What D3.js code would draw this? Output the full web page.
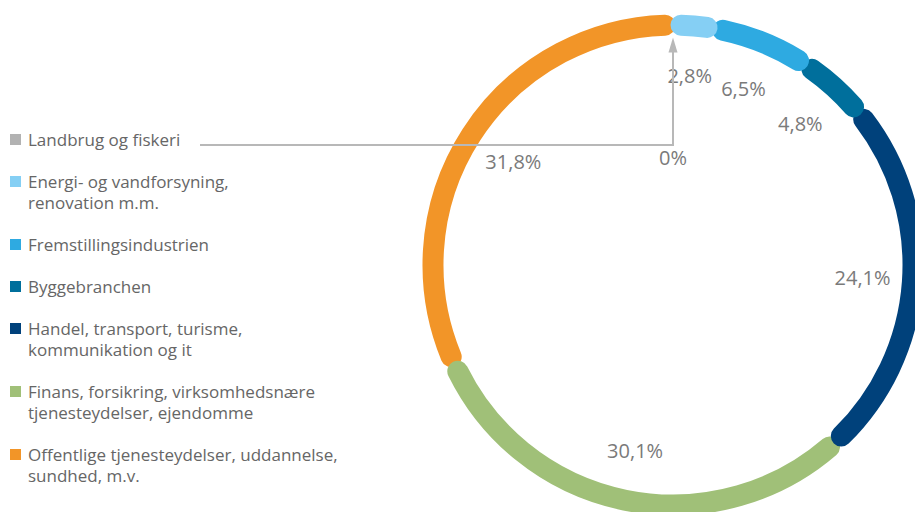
<!DOCTYPE html>
<html>
<head>
<meta charset="utf-8">
<script src="https://cdn.jsdelivr.net/npm/d3@7"></script>
<style>
body { margin: 0; background: #fff; }
svg text { font-family: "Open Sans", sans-serif; }
</style>
</head>
<body>
<svg></svg>
<script>
var width = 915;
var height = 512;

var categories = [
    ["Landbrug og fiskeri"],
    ["Energi- og vandforsyning,", "renovation m.m."],
    ["Fremstillingsindustrien"],
    ["Byggebranchen"],
    ["Handel, transport, turisme,", "kommunikation og it"],
    ["Finans, forsikring, virksomhedsnære", "tjenesteydelser, ejendomme"],
    ["Offentlige tjenesteydelser, uddannelse,", "sundhed, m.v."]
];
var values = [0, 2.8, 6.5, 4.8, 24.1, 30.1, 31.8];
var colors = ["#b2b2b2", "#85cff4", "#2eaae1", "#006f9c", "#00417b", "#a0c078", "#f29528"];

var cx = 673, cy = 265, R = 240, sw = 21;
var labelR = 190;

var svg = d3.select("svg")
    .attr("width", width)
    .attr("height", height);

var fmt = function(v) {
    if (v === 0) return "0%";
    return d3.format(".1f")(v).replace(".", ",") + "%";
};

var pie = d3.pie().sort(null).value(function(d) { return d; });
var arcs = pie(values);

var ring = svg.append("g").attr("transform", "translate(" + cx + "," + cy + ")");

// draw in reverse so each segment's cap sits on top of the next one
var inset = (sw / 2 - 2.5) / R;
arcs.slice().reverse().forEach(function(a) {
    if (a.value === 0) return;
    var p = d3.path();
    var a0 = a.startAngle + inset - Math.PI / 2;
    var a1 = a.endAngle - inset - Math.PI / 2;
    p.arc(0, 0, R, a0, a1);
    ring.append("path")
        .attr("d", p.toString())
        .attr("fill", "none")
        .attr("stroke", colors[a.index])
        .attr("stroke-width", sw)
        .attr("stroke-linecap", "round");
});

// value labels
arcs.forEach(function(a) {
    if (a.value === 0) return;
    var m = (a.startAngle + a.endAngle) / 2;
    ring.append("text")
        .attr("x", Math.sin(m) * labelR)
        .attr("y", -Math.cos(m) * labelR)
        .attr("dy", "0.35em")
        .attr("text-anchor", "middle")
        .attr("font-size", 20)
        .attr("fill", "#7a7a7a")
        .text(fmt(a.value));
});

// legend
var legend = svg.append("g");
var ly = 146;
var lineH = 21;
categories.forEach(function(lines, i) {
    var g = legend.append("g").attr("transform", "translate(0," + ly + ")");
    g.append("rect")
        .attr("x", 10).attr("y", -12)
        .attr("width", 11).attr("height", 11)
        .attr("fill", colors[i]);
    var t = g.append("text")
        .attr("font-size", 17)
        .attr("fill", "#666");
    lines.forEach(function(l, j) {
        t.append("tspan").attr("x", 28).attr("y", j * lineH).text(l);
    });
    if (i === 0) {
        // connector for the zero segment, runs from the legend to the ring
        var zero = arcs[0];
        var ex = cx + Math.sin(zero.startAngle) * (R - sw / 2);
        var ey = cy - Math.cos(zero.startAngle) * (R - sw / 2) + 2;
        var lyc = ly - 1;
        svg.append("path")
            .attr("d", "M200," + lyc + "H" + ex + "V" + (ey + 12))
            .attr("fill", "none")
            .attr("stroke", "#b8b8b8")
            .attr("stroke-width", 2);
        svg.append("path")
            .attr("d", "M" + ex + "," + ey + "l-4.5,15h9z")
            .attr("fill", "#b8b8b8");
        svg.append("text")
            .attr("x", ex)
            .attr("y", lyc + 20)
            .attr("text-anchor", "middle")
            .attr("font-size", 20)
            .attr("fill", "#7a7a7a")
            .text(fmt(zero.value));
    }
    ly += lines.length * lineH + 21;
});
</script>
</body>
</html>
